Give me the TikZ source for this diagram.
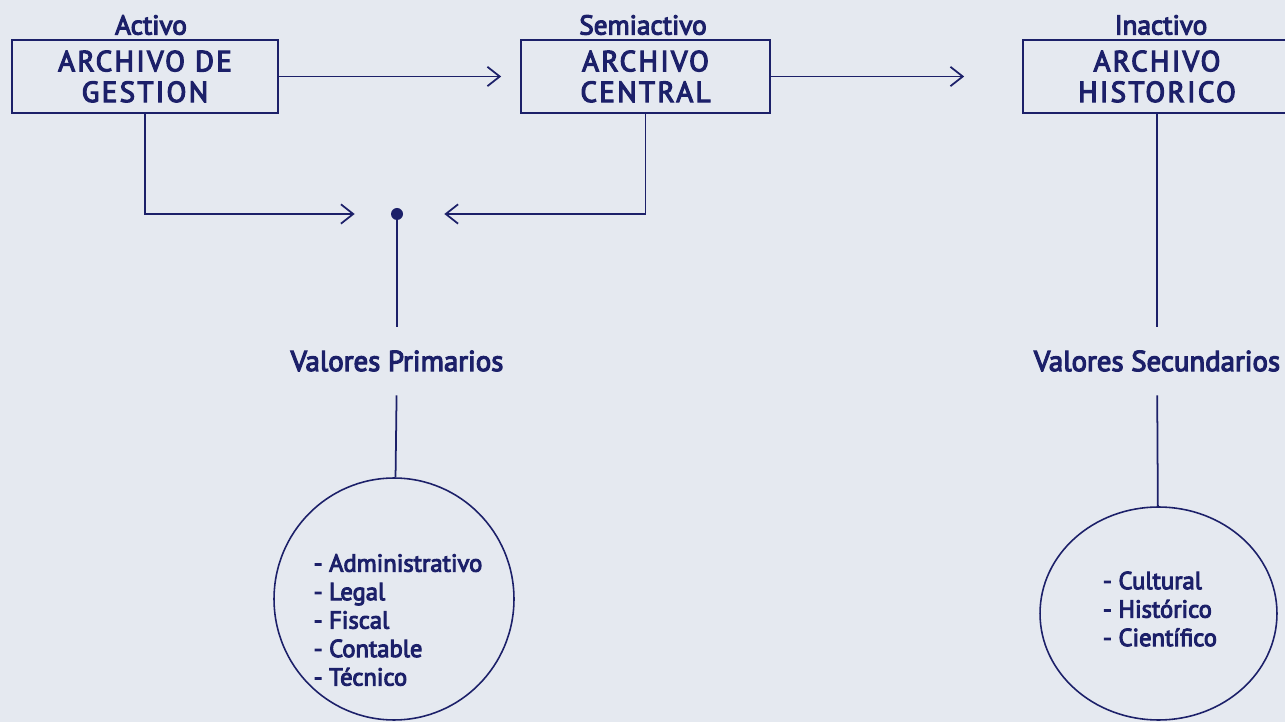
\documentclass[tikz,border=0pt]{standalone}
\usepackage{fontspec}
\setmainfont{PT Sans}[FakeBold=4]
\usetikzlibrary{arrows.meta,shapes.geometric}
\definecolor{tinta}{RGB}{28,32,105}
\definecolor{papel}{RGB}{229,233,240}
\tikzstyle{archivo}=[rectangle,draw=tinta,line width=1pt,minimum height=1.46cm,align=center,text=tinta,inner sep=0pt,font=\fontsize{16.5}{17.5}\selectfont\addfontfeatures{LetterSpace=8}]
\tikzstyle{etiqueta}=[text=tinta,inner sep=0pt,font=\fontsize{15.5}{17}\selectfont]
\tikzstyle{valor}=[text=tinta,inner sep=0pt,minimum height=1.36cm,font=\fontsize{16.4}{18}\selectfont]
\tikzstyle{circulo}=[ellipse,draw=tinta,line width=0.9pt,inner sep=0pt]
\tikzstyle{lista}=[text=tinta,align=left,inner sep=0pt,font=\fontsize{14}{16.2}\selectfont]
\tikzstyle{punto}=[circle,fill=tinta,minimum size=0.24cm,inner sep=0pt]
\tikzstyle{flecha}=[draw,color=tinta,line width=1pt,-{Straight Barb[length=7pt,width=11pt]}]
\tikzstyle{linea}=[draw,color=tinta,line width=1pt,-]

\begin{document}
\begin{tikzpicture}[x=0.02cm,y=-0.02cm]
      \fill[papel] (0,0) rectangle (1285,722);
      \useasboundingbox (0,0) rectangle (1285,722);

      % los tres archivos
      \node[archivo,minimum width=5.32cm] (gestion) at (145,76.5) {ARCHIVO DE\\GESTION};
      \node[archivo,minimum width=4.98cm] (central) at (645.5,76.5) {ARCHIVO\\CENTRAL};
      \node[archivo,minimum width=5.36cm] (historico) at (1157,76.5) {ARCHIVO\\HISTORICO};
      \foreach \x/\id/\txt in {151/activo/Activo,643/semiactivo/Semiactivo,1161/inactivo/Inactivo}{
        \node[etiqueta] (\id) at (\x,25) {\txt};
      }

      \path[flecha,shorten >=0.38cm] (gestion) -- (central);
      \path[flecha,shorten >=1.16cm] (central) -- (historico);

      % valores primarios
      \node[punto] (union) at (397,214) {};
      \path[flecha,shorten >=0.72cm] (gestion.south) |- (union);
      \path[flecha,shorten >=0.82cm] (central.south) |- (union);
      \node[valor] (primarios) at (397,361) {Valores Primarios};
      \node[circulo,minimum width=4.8cm,minimum height=4.84cm] (primcirc) at (394,599) {};
      \node[lista] (primlista) at (398,620) {- Administrativo\\- Legal\\- Fiscal\\- Contable\\- Técnico};
      \path[linea] (union) -- (primarios);
      \path[linea] (primarios) -- (primcirc);

      % valores secundarios
      \node[valor] (secundarios) at (1157,361) {Valores Secundarios};
      \node[circulo,minimum width=4.74cm,minimum height=4.26cm] (seccirc) at (1158.5,613.5) {};
      \node[lista] (seclista) at (1160,609) {- Cultural\\- Histórico\\- Científico};
      \path[linea] (historico) -- (secundarios);
      \path[linea] (secundarios) -- (seccirc);

\end{tikzpicture}
\end{document}
